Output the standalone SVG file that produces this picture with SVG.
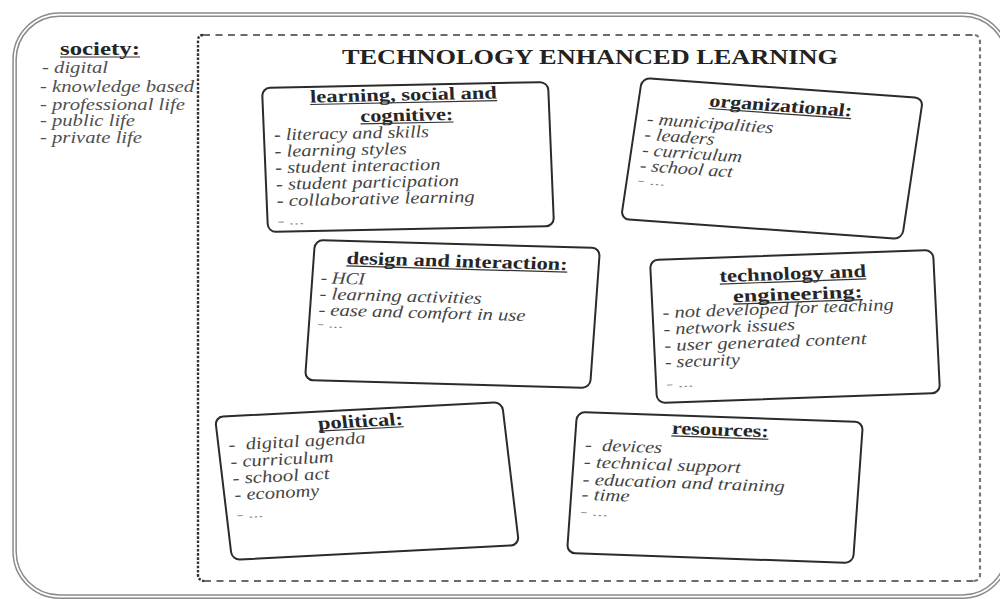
<svg xmlns="http://www.w3.org/2000/svg" width="1000" height="599" viewBox="0 0 1000 599">
  <style>
    .frame-out { fill: none; stroke: #8a8a8a; stroke-width: 4.6; }
    .frame-in { fill: none; stroke: #ffffff; stroke-width: 1.6; }
    .dash-h { fill: none; stroke: #6a6a6a; stroke-width: 2; stroke-dasharray: 7 5.5; }
    .dot-l { fill: none; stroke: #333333; stroke-width: 2.4; stroke-dasharray: 2.6 1.6; }
    .dot-r { fill: none; stroke: #777777; stroke-width: 2.2; stroke-dasharray: 4 3.3; }
    .card { fill: #ffffff; stroke: #2b2b2b; stroke-width: 2; }
    .title { font-family: "Liberation Serif", serif; font-weight: bold; font-size: 21px; fill: #222222; }
    .hd { font-family: "Liberation Serif", serif; font-weight: bold; font-size: 18px; fill: #262626; text-anchor: middle; }
    .it { font-family: "Liberation Serif", serif; font-style: italic; font-size: 17px; fill: #444444; }
    .soc { font-family: "Liberation Serif", serif; font-style: italic; font-size: 16px; fill: #505050; }
    .more { font-family: "Liberation Serif", serif; font-style: italic; font-size: 11px; fill: #7a7a7a; }
    .ul { stroke: #333333; stroke-width: 1.2; }
  </style>

  <!-- outer double-line frame -->
  <rect class="frame-out" x="14.6" y="14.6" width="993" height="582" rx="45"/>
  <rect class="frame-in" x="14.6" y="14.6" width="993" height="582" rx="45"/>

  <!-- society column -->
  <g id="society">
    <text class="hd" x="100" y="55" textLength="80" lengthAdjust="spacingAndGlyphs">society:</text>
    <line class="ul" x1="60" y1="57" x2="140" y2="57"/>
    <text class="soc" x="42" y="73" textLength="66" lengthAdjust="spacingAndGlyphs">- digital</text>
    <text class="soc" x="40" y="91.5" textLength="154" lengthAdjust="spacingAndGlyphs">- knowledge based</text>
    <text class="soc" x="40" y="109.5" textLength="145" lengthAdjust="spacingAndGlyphs">- professional life</text>
    <text class="soc" x="40" y="126" textLength="95" lengthAdjust="spacingAndGlyphs">- public life</text>
    <text class="soc" x="40" y="142.5" textLength="102" lengthAdjust="spacingAndGlyphs">- private life</text>
  </g>

  <!-- dashed boundary of the learning area -->
  <g id="tel-area">
    <path class="dash-h" d="M203,35 H975"/>
    <path class="dash-h" d="M204,581 H974"/>
    <path class="dot-l" d="M203,35 Q198,35 198,41 V575 Q198,580 204,581"/>
    <path class="dot-r" d="M975,35 Q980,36 980,42 V575 Q980,580 974,581"/>
    <text class="title" x="342" y="63.5" textLength="496" lengthAdjust="spacingAndGlyphs">TECHNOLOGY ENHANCED LEARNING</text>
  </g>

  <!-- learning, social and cognitive -->
  <g id="learning" transform="matrix(1,-0.021,0.0417,1,262,88)">
    <rect class="card" x="0" y="0" width="286" height="144" rx="8"/>
    <text class="hd" x="141" y="15.5" textLength="187" lengthAdjust="spacingAndGlyphs">learning, social and</text>
    <line class="ul" x1="47.5" y1="17.5" x2="234.5" y2="17.5"/>
    <text class="hd" x="143.5" y="36" textLength="93" lengthAdjust="spacingAndGlyphs">cognitive:</text>
    <line class="ul" x1="97" y1="38" x2="190" y2="38"/>
    <text class="it" x="10" y="52.5" textLength="155" lengthAdjust="spacingAndGlyphs">- literacy and skills</text>
    <text class="it" x="10" y="69" textLength="132" lengthAdjust="spacingAndGlyphs">- learning styles</text>
    <text class="it" x="10" y="85.5" textLength="165" lengthAdjust="spacingAndGlyphs">- student interaction</text>
    <text class="it" x="10" y="102" textLength="183" lengthAdjust="spacingAndGlyphs">- student participation</text>
    <text class="it" x="10" y="118.5" textLength="198" lengthAdjust="spacingAndGlyphs">- collaborative learning</text>
    <text class="more" x="10" y="137" textLength="27" lengthAdjust="spacingAndGlyphs">- ...</text>
  </g>

  <!-- organizational -->
  <g id="organizational" transform="matrix(0.9965,0.0709,-0.149,1,642,78)">
    <rect class="card" x="0" y="0" width="282" height="141" rx="8"/>
    <text class="hd" x="142" y="23.5" textLength="143" lengthAdjust="spacingAndGlyphs">organizational:</text>
    <line class="ul" x1="70.5" y1="25.5" x2="213.5" y2="25.5"/>
    <text class="it" x="11" y="45.5" textLength="127" lengthAdjust="spacingAndGlyphs">- municipalities</text>
    <text class="it" x="11" y="61" textLength="70" lengthAdjust="spacingAndGlyphs">- leaders</text>
    <text class="it" x="11" y="76.5" textLength="100" lengthAdjust="spacingAndGlyphs">- curriculum</text>
    <text class="it" x="11" y="92" textLength="93" lengthAdjust="spacingAndGlyphs">- school act</text>
    <text class="more" x="11" y="105" textLength="28" lengthAdjust="spacingAndGlyphs">- ...</text>
  </g>

  <!-- design and interaction -->
  <g id="design" transform="matrix(1,0.0281,-0.0714,1,315,240)">
    <rect class="card" x="0" y="0" width="285" height="140" rx="8"/>
    <text class="hd" x="143.5" y="23" textLength="221" lengthAdjust="spacingAndGlyphs">design and interaction:</text>
    <line class="ul" x1="33" y1="25" x2="254" y2="25"/>
    <text class="it" x="8.5" y="43" textLength="44" lengthAdjust="spacingAndGlyphs">- HCI</text>
    <text class="it" x="8.5" y="59" textLength="162" lengthAdjust="spacingAndGlyphs">- learning activities</text>
    <text class="it" x="8.5" y="75" textLength="207" lengthAdjust="spacingAndGlyphs">- ease and comfort in use</text>
    <text class="more" x="8.5" y="87" textLength="26" lengthAdjust="spacingAndGlyphs">- ...</text>
  </g>

  <!-- technology and engineering -->
  <g id="technology" transform="matrix(0.9965,-0.0352,0.049,1,650,260)">
    <rect class="card" x="0" y="0" width="284" height="143" rx="8"/>
    <text class="hd" x="142.3" y="24.5" textLength="147" lengthAdjust="spacingAndGlyphs">technology and</text>
    <line class="ul" x1="68.8" y1="26.5" x2="215.8" y2="26.5"/>
    <text class="hd" x="146.3" y="45" textLength="130" lengthAdjust="spacingAndGlyphs">engineering:</text>
    <line class="ul" x1="81.3" y1="47" x2="211.3" y2="47"/>
    <text class="it" x="10" y="58.5" textLength="232" lengthAdjust="spacingAndGlyphs">- not developed for teaching</text>
    <text class="it" x="10" y="75" textLength="132" lengthAdjust="spacingAndGlyphs">- network issues</text>
    <text class="it" x="10" y="91.5" textLength="203" lengthAdjust="spacingAndGlyphs">- user generated content</text>
    <text class="it" x="10" y="108" textLength="75" lengthAdjust="spacingAndGlyphs">- security</text>
    <text class="more" x="10" y="128" textLength="28" lengthAdjust="spacingAndGlyphs">- ...</text>
  </g>

  <!-- political -->
  <g id="political" transform="matrix(1,-0.0523,0.119,1,215,417)">
    <rect class="card" x="0" y="0" width="287" height="143" rx="8"/>
    <text class="hd" x="144" y="17.5" textLength="85" lengthAdjust="spacingAndGlyphs">political:</text>
    <line class="ul" x1="101.5" y1="19.5" x2="186.5" y2="19.5"/>
    <text class="it" x="10" y="34" textLength="137" lengthAdjust="spacingAndGlyphs" xml:space="preserve">-  digital agenda</text>
    <text class="it" x="10" y="51" textLength="103" lengthAdjust="spacingAndGlyphs">- curriculum</text>
    <text class="it" x="10" y="67.5" textLength="97" lengthAdjust="spacingAndGlyphs">- school act</text>
    <text class="it" x="10" y="84" textLength="85" lengthAdjust="spacingAndGlyphs">- economy</text>
    <text class="more" x="10" y="102" textLength="27" lengthAdjust="spacingAndGlyphs">- ...</text>
  </g>

  <!-- resources -->
  <g id="resources" transform="matrix(1,0.035,-0.0709,1,577,412)">
    <rect class="card" x="0" y="0" width="286" height="141" rx="8"/>
    <text class="hd" x="144.3" y="18.5" textLength="97" lengthAdjust="spacingAndGlyphs">resources:</text>
    <line class="ul" x1="95.8" y1="20.5" x2="192.8" y2="20.5"/>
    <text class="it" x="10.5" y="38" textLength="77" lengthAdjust="spacingAndGlyphs" xml:space="preserve">-  devices</text>
    <text class="it" x="10.5" y="55" textLength="157" lengthAdjust="spacingAndGlyphs">- technical support</text>
    <text class="it" x="10.5" y="72.5" textLength="202" lengthAdjust="spacingAndGlyphs">- education and training</text>
    <text class="it" x="10.5" y="87.5" textLength="48" lengthAdjust="spacingAndGlyphs">- time</text>
    <text class="more" x="10.5" y="103" textLength="28" lengthAdjust="spacingAndGlyphs">- ...</text>
  </g>

  <!-- no connectors in this figure -->
  <g id="connectors"/>
</svg>
